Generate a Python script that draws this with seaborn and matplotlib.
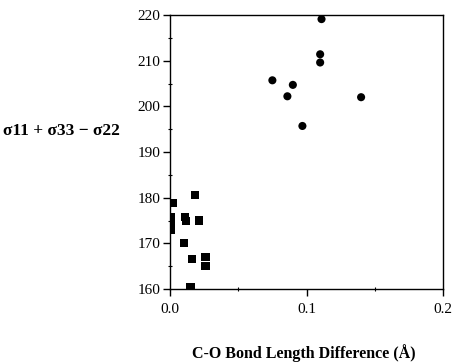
import matplotlib
matplotlib.use("Agg")
import matplotlib.pyplot as plt
import seaborn as sns
import pandas as pd
from matplotlib.ticker import MultipleLocator

# Circles (upper group)
circle_x = [0.111, 0.110, 0.110, 0.075, 0.090, 0.086, 0.140, 0.097]
circle_y = [219.1, 211.4, 209.6, 205.7, 204.7, 202.2, 202.0, 195.7]
# Squares (lower group)
square_x = [0.018, 0.002, 0.001, 0.011, 0.012, 0.021, 0.001, 0.001, 0.010, 0.016, 0.026, 0.026, 0.015]
square_y = [180.6, 178.8, 175.7, 175.8, 174.9, 175.0, 174.0, 172.9, 170.0, 166.6, 167.1, 165.0, 160.4]

x_ticks = [0.0, 0.1, 0.2]
x_ticklabels = ["0.0", "0.1", "0.2"]
y_ticks = [160, 170, 180, 190, 200, 210, 220]
y_ticklabels = ["160", "170", "180", "190", "200", "210", "220"]

df = pd.DataFrame({
    "x": circle_x + square_x,
    "y": circle_y + square_y,
    "group": ["circle"] * len(circle_x) + ["square"] * len(square_x),
})

sns.set_style("ticks")
plt.rcParams["font.family"] = ["Liberation Serif", "DejaVu Serif"]
plt.rcParams["text.color"] = "black"
plt.rcParams["axes.labelcolor"] = "black"
plt.rcParams["xtick.color"] = "black"
plt.rcParams["ytick.color"] = "black"

fig = plt.figure(figsize=(4.53, 3.62), dpi=100)
ax = fig.add_axes([170/453, 73/362, 273/453, 274/362])

sns.scatterplot(data=df, x="x", y="y", style="group",
                markers={"circle": "o", "square": "s"},
                color="black", s=34, linewidth=0, legend=False, ax=ax)

ax.set_xlim(0.0, 0.2)
ax.set_ylim(160, 220)
ax.set_xticks(x_ticks)
ax.set_xticklabels(x_ticklabels)
ax.set_yticks(y_ticks)
ax.set_yticklabels(y_ticklabels)
ax.yaxis.set_minor_locator(MultipleLocator(5))
ax.xaxis.set_minor_locator(MultipleLocator(0.05))

for sp in ax.spines.values():
    sp.set_visible(True)
    sp.set_linewidth(1.0)
    sp.set_color("black")

ax.tick_params(axis="both", which="major", direction="out", length=5, width=1,
               labelsize=11, colors="black", labelcolor="black", pad=2)
ax.tick_params(axis="x", which="major", pad=5)
ax.tick_params(axis="both", which="minor", direction="inout", length=3, width=0.8)

ax.set_xlabel("C-O Bond Length Difference (Å)", fontsize=11.5, fontweight="bold",
              color="black")
ax.xaxis.set_label_coords(0.49, -0.234)
ax.xaxis.label.set_va("center")

ax.set_ylabel("σ11 + σ33 − σ22", fontsize=12.5, fontweight="bold", rotation=0,
              ha="left", va="center", color="black")
ax.yaxis.set_label_coords(-0.612, 0.577)

fig.savefig("out.png", dpi=100)
